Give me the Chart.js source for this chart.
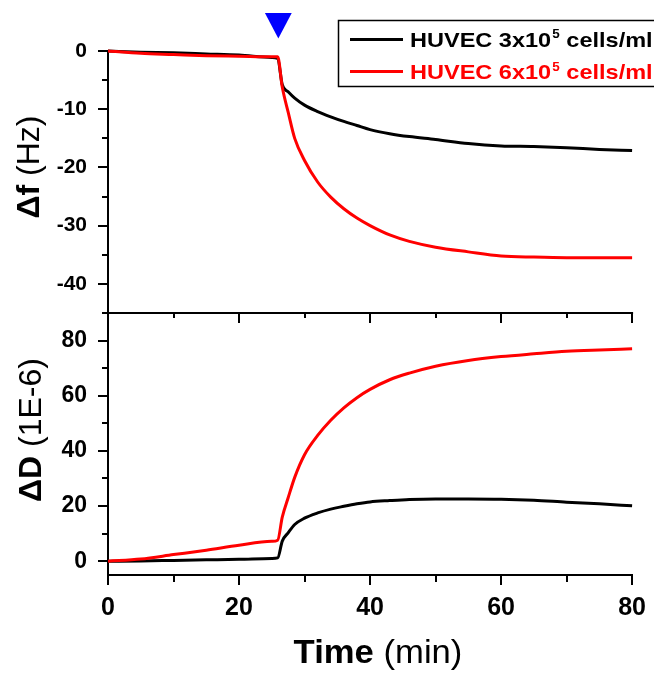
<!DOCTYPE html>
<html>
<head>
<meta charset="utf-8">
<script src="https://cdn.jsdelivr.net/npm/chart.js@4.4.1/dist/chart.umd.min.js"></script>
<style>
  html, body { margin: 0; padding: 0; background: #fff; }
  canvas { display: block; }
</style>
</head>
<body>
<canvas id="c" width="654" height="673"></canvas>
<script>
// ---- data ----
const timeMin = [0, 5, 10, 15, 20, 25, 25.9, 26.6, 27.5, 28.5, 30, 32, 34, 36, 38, 40, 43, 46, 50, 55, 60, 65, 70, 75, 80];

// Δf (Hz)
const dfLow  = [0, -0.2, -0.3, -0.5, -0.7, -1.1, -1.3, -5.8, -7.0, -8.1, -9.3, -10.4, -11.3, -12.1, -12.8, -13.5, -14.2, -14.7, -15.2, -15.9, -16.3, -16.4, -16.6, -16.9, -17.1];
const dfHigh = [0, -0.4, -0.6, -0.8, -0.9, -1.0, -1.0, -6.2, -10.5, -15.0, -18.8, -22.5, -25.1, -27.1, -28.7, -30.0, -31.6, -32.7, -33.7, -34.5, -35.2, -35.4, -35.5, -35.5, -35.5];

// ΔD (1E-6)
const ddLow  = [0, 0.1, 0.3, 0.5, 0.7, 1.0, 1.2, 7.3, 10.3, 13.3, 15.6, 17.5, 18.9, 19.9, 20.8, 21.5, 22.0, 22.4, 22.6, 22.6, 22.5, 22.1, 21.4, 20.8, 20.1];
const ddHigh = [0, 0.8, 2.4, 4.0, 5.8, 7.2, 7.6, 16.0, 23.0, 30.4, 38.6, 45.6, 51.1, 55.6, 59.3, 62.3, 65.8, 68.2, 70.7, 72.8, 74.2, 75.2, 76.1, 76.6, 77.0];

const seriesNames = ['HUVEC 3x10', 'HUVEC 6x10'];
const seriesExp = '5';
const seriesUnit = ' cells/ml';

// labelled (major) ticks and unlabelled (minor) ticks
const xTicks = [0, 20, 40, 60, 80];
const xMinor = [10, 30, 50, 70];
const dfTicks = [0, -10, -20, -30, -40];
const dfMinor = [-5, -15, -25, -35, -45];
const ddTicks = [0, 20, 40, 60, 80];
const ddMinor = [10, 30, 50, 70, 90];

const injectionTime = [26];

// ---- helpers ----
const FAMILY = "'Liberation Sans', Arial, sans-serif";
const pts = (ys) => timeMin.map((t, i) => ({ x: t, y: ys[i] }));
const near = (v) => Math.round(v * 1000) / 1000;
const tickList = (maj, min) => maj.concat(min).sort((a, b) => a - b).map(v => ({ value: v }));

function drawMixed(ctx, parts, x, y, sx) {
  ctx.save();
  ctx.translate(x, y);
  ctx.scale(sx, 1);
  let cx = 0;
  for (const p of parts) {
    ctx.font = p.font;
    ctx.fillText(p.text, cx + (p.dx || 0), p.dy || 0);
    cx += ctx.measureText(p.text).width + (p.dx || 0);
  }
  ctx.restore();
  return cx * sx;
}
function mixedWidth(ctx, parts) {
  let w = 0;
  for (const p of parts) { ctx.font = p.font; w += ctx.measureText(p.text).width; }
  return w;
}

const decor = {
  id: 'decor',
  afterDraw(chart) {
    const ctx = chart.ctx;
    const ca = chart.chartArea;
    const xs = chart.scales.x, yT = chart.scales.yTop, yB = chart.scales.yBot;
    ctx.save();
    ctx.strokeStyle = '#000';
    ctx.lineWidth = 2;
    ctx.lineCap = 'butt';

    // boundary between the two panels (top axis of lower panel)
    const by = yB.top;
    ctx.beginPath();
    ctx.moveTo(ca.left - 1, by);
    ctx.lineTo(ca.right + 1, by);
    ctx.stroke();

    ctx.beginPath();
    for (const t of xs.ticks) {
      const v = near(t.value);
      const px = Math.round(xs.getPixelForValue(v));
      const major = xTicks.includes(v);
      if (v > 0) {
        ctx.moveTo(px, by);
        ctx.lineTo(px, by + (major ? 10 : 5));
      }
      ctx.moveTo(px, ca.bottom);
      ctx.lineTo(px, ca.bottom + (major ? 10 : 7));
    }
    for (const t of yT.ticks) {
      const v = near(t.value);
      const py = Math.round(yT.getPixelForValue(v));
      const major = dfTicks.includes(v);
      ctx.moveTo(ca.left, py);
      ctx.lineTo(ca.left - (major ? 10 : 6), py);
    }
    for (const t of yB.ticks) {
      const v = near(t.value);
      const py = Math.round(yB.getPixelForValue(v));
      const major = ddTicks.includes(v);
      ctx.moveTo(ca.left, py);
      ctx.lineTo(ca.left - (major ? 10 : 6), py);
    }
    ctx.stroke();

    // injection marker (blue triangle)
    const tx = xs.getPixelForValue(injectionTime[0]);
    const apexY = yT.getPixelForValue(0) - 12.5;
    ctx.fillStyle = '#0000ff';
    ctx.beginPath();
    ctx.moveTo(tx - 13.4, apexY - 25.6);
    ctx.lineTo(tx + 13.4, apexY - 25.6);
    ctx.lineTo(tx, apexY);
    ctx.closePath();
    ctx.fill();

    // axis titles
    ctx.fillStyle = '#000';
    ctx.textBaseline = 'middle';
    const titleTop = [
      { text: 'Δf', font: `bold 32px ${FAMILY}` },
      { text: ' (Hz)', font: `32px ${FAMILY}` }
    ];
    const titleBot = [
      { text: 'ΔD', font: `bold 32px ${FAMILY}` },
      { text: ' (1E-6)', font: `32px ${FAMILY}` }
    ];
    const drawRot = (parts, cx, cy) => {
      ctx.save();
      ctx.translate(cx, cy);
      ctx.rotate(-Math.PI / 2);
      const w = mixedWidth(ctx, parts);
      drawMixed(ctx, parts, -w / 2, 0, 1);
      ctx.restore();
    };
    drawRot(titleTop, 30, 167);
    drawRot(titleBot, 32, 430);

    ctx.textBaseline = 'alphabetic';
    const titleX = [
      { text: 'Time', font: `bold 33px ${FAMILY}` },
      { text: ' (min)', font: `33px ${FAMILY}` }
    ];
    const wx = mixedWidth(ctx, titleX) * 1.05;
    drawMixed(ctx, titleX, 378 - wx / 2, 663, 1.05);

    // legend
    ctx.lineWidth = 1.5;
    ctx.strokeStyle = '#000';
    ctx.strokeRect(338.5, 20.5, 330, 66);
    const colors = ['#000000', '#ff0000'];
    const rowY = [39.5, 71.5];
    const baseY = [46.7, 79];
    for (let i = 0; i < 2; i++) {
      ctx.strokeStyle = colors[i];
      ctx.lineWidth = 3;
      ctx.beginPath();
      ctx.moveTo(350, rowY[i]);
      ctx.lineTo(403, rowY[i]);
      ctx.stroke();
      ctx.fillStyle = colors[i];
      drawMixed(ctx, [
        { text: seriesNames[i], font: `bold 21px ${FAMILY}` },
        { text: seriesExp, font: `bold 12px ${FAMILY}`, dy: -8.5, dx: 1 },
        { text: seriesUnit, font: `bold 21px ${FAMILY}` }
      ], 410, baseY[i], 1.12);
    }
    ctx.restore();
  }
};

const tickFont = (size) => ({ family: FAMILY, size: size, weight: 'bold' });

new Chart(document.getElementById('c'), {
  type: 'line',
  data: {
    datasets: [
      { data: pts(dfHigh), yAxisID: 'yTop', borderColor: '#ff0000', borderWidth: 3, pointRadius: 0, clip: false, cubicInterpolationMode: 'monotone' },
      { data: pts(dfLow),  yAxisID: 'yTop', borderColor: '#000000', borderWidth: 3, pointRadius: 0, clip: false, cubicInterpolationMode: 'monotone' },
      { data: pts(ddHigh), yAxisID: 'yBot', borderColor: '#ff0000', borderWidth: 3, pointRadius: 0, clip: false, cubicInterpolationMode: 'monotone' },
      { data: pts(ddLow),  yAxisID: 'yBot', borderColor: '#000000', borderWidth: 3, pointRadius: 0, clip: false, cubicInterpolationMode: 'monotone' }
    ]
  },
  options: {
    responsive: false,
    animation: false,
    events: [],
    layout: { padding: { top: 51, right: 17, bottom: 0, left: 0 } },
    plugins: { legend: { display: false }, tooltip: { enabled: false } },
    scales: {
      x: {
        type: 'linear', position: 'bottom', min: 0, max: 80,
        afterBuildTicks: (s) => { s.ticks = tickList(xTicks, xMinor); },
        ticks: {
          autoSkip: false, maxRotation: 0, color: '#000', padding: 8,
          font: tickFont(25),
          callback: (v) => xTicks.includes(near(v)) ? String(near(v)) : ''
        },
        grid: { drawOnChartArea: false, tickLength: 10, tickColor: 'rgba(0,0,0,0)' },
        border: { color: '#000', width: 2 },
        afterFit: (s) => { s.height = 98; }
      },
      yBot: {
        type: 'linear', position: 'left', stack: 'panels', stackWeight: 1,
        min: -5, max: 90,
        afterBuildTicks: (s) => { s.ticks = tickList(ddTicks, ddMinor); },
        ticks: {
          autoSkip: false, color: '#000', padding: 11,
          font: tickFont(23),
          callback: (v) => ddTicks.includes(near(v)) ? String(near(v)) : ''
        },
        grid: { drawOnChartArea: false, tickLength: 10, tickColor: 'rgba(0,0,0,0)' },
        border: { color: '#000', width: 2 },
        afterFit: (s) => { s.width = 108; }
      },
      yTop: {
        type: 'linear', position: 'left', stack: 'panels', stackWeight: 1,
        min: -45, max: 0,
        afterBuildTicks: (s) => { s.ticks = tickList(dfTicks, dfMinor); },
        ticks: {
          autoSkip: false, color: '#000', padding: 11,
          font: tickFont(21),
          callback: (v) => dfTicks.includes(near(v)) ? String(near(v)) : ''
        },
        grid: { drawOnChartArea: false, tickLength: 10, tickColor: 'rgba(0,0,0,0)' },
        border: { color: '#000', width: 2 },
        afterFit: (s) => { s.width = 108; }
      }
    }
  },
  plugins: [decor]
});
</script>
</body>
</html>
